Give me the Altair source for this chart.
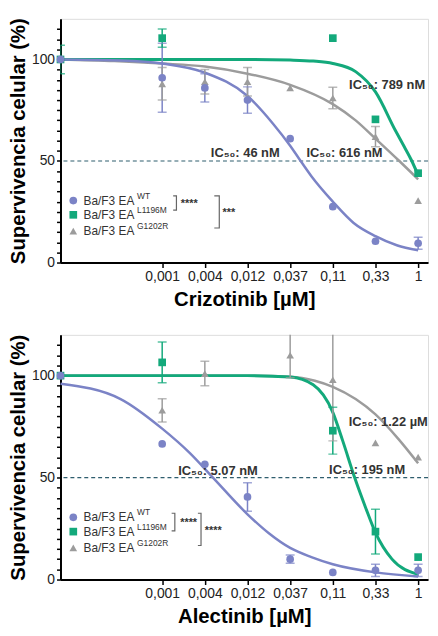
import altair as alt
import pandas as pd

# ---------------- data ----------------
# concentrations (µM); the untreated control is drawn at 1e-4 on the log axis
conc = [0.0001, 0.0013717, 0.0041152, 0.0123457, 0.037037, 0.111111, 0.333333, 1.0]
tick_vals = [0.0013717, 0.0041152, 0.0123457, 0.037037, 0.111111, 0.333333, 1.0]
tick_labels = ["0,001", "0,004", "0,012", "0,037", "0,11", "0,33", "1"]

series = ["WT", "L1196M", "G1202R"]
series_sup = ["WT", "L1196M", "G1202R"]
colors = ["#7b83c6", "#13a97b", "#9c9c9c"]
shapes = ["circle", "square", "triangle-up"]

# Crizotinib panel: means and error (SD) per concentration (None = not visible)
criz_wt = [100, 91, 86, 80, 61, 27.5, 10.5, 9.5]
criz_wt_err = [0, 17, 7, 6.5, 0, 0, 0, 3]
criz_l = [100, 110.5, None, None, None, 110.5, 70.5, 44]
criz_l_err = [7, 4.5, 0, 0, 0, 0, 0, 0]
criz_g = [100, 88, 89, 89, 86, 81, 62, 30.5]
criz_g_err = [0, 8, 6, 7, 0, 5.3, 5, 0]

# Crizotinib fitted curves
criz_wt_cx = [0.0001, 0.00047, 0.0013717, 0.0041152, 0.0123457, 0.0237, 0.037037, 0.046, 0.064, 0.111111, 0.19, 0.333333, 0.577, 1.0]
criz_wt_cy = [100, 99.5, 98, 93.5, 82, 68.5, 57.5, 51.5, 42.5, 30, 19.5, 13, 8.5, 6]
criz_l_cx = [0.0001, 0.0013717, 0.0123457, 0.037037, 0.067, 0.111111, 0.2, 0.333333, 0.557, 0.7, 0.85, 1.0]
criz_l_cy = [100, 100, 100, 99.7, 99.2, 98, 94, 84, 65, 57, 50, 43]
criz_g_cx = [0.0001, 0.0004, 0.0013717, 0.0041152, 0.0123457, 0.037037, 0.111111, 0.2, 0.333333, 0.616, 1.0]
criz_g_cy = [100, 99.2, 98, 96.5, 93, 87.5, 78, 70, 61, 50, 41]

# Alectinib panel
alec_wt = [100, 66.5, 56.5, 40.5, 10, 3.5, 4.5, 4.5]
alec_wt_err = [0, 0, 0, 7, 2, 0, 3, 3]
alec_l = [100, 106.5, None, None, None, 73, 23.5, 11]
alec_l_err = [0, 10, 0, 0, 0, 11.5, 11, 0]
alec_g = [100, 83, 101, None, 110, 98, 67, 60]
alec_g_err = [0, 5.7, 6, 0, 11, 30, 0, 0]

alec_wt_cx = [0.0001, 0.00047, 0.0013717, 0.0028, 0.00507, 0.0123457, 0.0214, 0.037037, 0.064, 0.111111, 0.333333, 1.0]
alec_wt_cy = [96, 88.5, 74, 62, 50, 32, 22.7, 15.5, 11, 7.5, 3.5, 1.5]
alec_l_cx = [0.0001, 0.0013717, 0.0123457, 0.037037, 0.067, 0.111111, 0.1435, 0.195, 0.26, 0.333333, 0.51, 1.0]
alec_l_cy = [100, 100, 100, 99.3, 95.5, 82, 68, 50, 35, 23, 10, 2.5]
alec_g_cx = [0.0001, 0.0123457, 0.037037, 0.07, 0.111111, 0.2, 0.333333, 0.6, 1.0]
alec_g_cy = [100, 100, 99.5, 97.5, 94.5, 88.5, 81, 69, 57]

# annotations (text, x in µM, y in %)
criz_ann = [("IC\u2085\u2080: 46 nM", 0.0048, 54), ("IC\u2085\u2080: 616 nM", 0.0564, 54),
            ("IC\u2085\u2080: 789 nM", 0.169, 87.5)]
alec_ann = [("IC\u2085\u2080: 5.07 nM", 0.00207, 53), ("IC\u2085\u2080: 195 nM", 0.101, 53.5),
            ("IC\u2085\u2080: 1.22 \u00b5M", 0.167, 77.3)]

# legend rows (y in %) and significance brackets
legend_rows = [30.5, 23.5, 15.5]
legend_sym_x = 0.000139
legend_txt_x = 0.000181
criz_brackets = [(0.00182, 0.00198, 32.8, 25.8), (0.00525, 0.00597, 32.8, 17.0)]
criz_stars = [("****", 0.00221, 28.8), ("***", 0.00649, 24.5)]
alec_brackets = [(0.00175, 0.0019, 32.5, 23.9), (0.00344, 0.00373, 32.5, 16.7)]
alec_stars = [("****", 0.00218, 27.5), ("****", 0.0041, 23.6)]

# ---------------- building ----------------
FONT = "Liberation Sans"
color_scale = alt.Scale(domain=series, range=colors)
shape_scale = alt.Scale(domain=series, range=shapes)
xs = alt.Scale(type="log", domain=[0.0001, 1.29], nice=False)
ys = alt.Scale(domain=[0, 120], nice=False, zero=False)

bounds = [(tick_vals[i] * tick_vals[i + 1]) ** 0.5 for i in range(len(tick_vals) - 1)]
label_expr = ""
for b, lab in zip(bounds, tick_labels[:-1]):
    label_expr += f"datum.value < {b} ? '{lab}' : "
label_expr += f"'{tick_labels[-1]}'"

axis_common = dict(domainColor="black", domainWidth=2, tickColor="black", tickWidth=1.5,
                   labelFont=FONT, labelFontSize=14, labelColor="#222", labelOverlap=False,
                   labelFlush=False, titleFont=FONT, titleFontWeight="bold",
                   titleColor="black", grid=False)


def X(field, title):
    return alt.X(field, type="quantitative", scale=xs,
                 axis=alt.Axis(values=tick_vals, labelExpr=label_expr, title=title,
                               tickSize=5, labelPadding=2, titlePadding=6, titleFontSize=20.5,
                               **axis_common))


def Y(field):
    return alt.Y(field, type="quantitative", scale=ys,
                 axis=alt.Axis(values=list(range(0, 116, 5)),
                               labelExpr="datum.value % 50 == 0 ? datum.value : ''",
                               title="Supervivencia celular (%)", tickSize=4, labelPadding=2,
                               titlePadding=3, titleFontSize=20.5, **axis_common))


def points_df(vals, errs):
    rows = []
    for s, v, e in zip(series, vals, errs):
        for c, y, err in zip(conc, v, e):
            if y is None:
                continue
            rows.append(dict(series=s, c=c, y=y, lo=y - err, hi=y + err, err=err))
    return pd.DataFrame(rows)


def curves_df(cxs, cys):
    rows = []
    for s, cx, cy in zip(series, cxs, cys):
        for i, (c, y) in enumerate(zip(cx, cy)):
            rows.append(dict(series=s, c=c, y=y, o=i))
    return pd.DataFrame(rows)


def panel(pts, crv, ann, brackets, stars, xtitle, h):
    col = alt.Color("series:N", scale=color_scale, legend=None)
    shp = alt.Shape("series:N", scale=shape_scale, legend=None)

    ref = alt.Chart(pd.DataFrame({"y": [50]})).mark_rule(
        color="#2f5e6e", strokeDash=[4, 3], strokeWidth=1.2).encode(y=Y("y"))

    line_layers = []
    for s, w in zip(["G1202R", "L1196M", "WT"], [2.5, 3, 2.5]):
        line_layers.append(
            alt.Chart(crv[crv.series == s]).mark_line(interpolate="monotone", strokeWidth=w)
            .encode(x=X("c", xtitle), y=Y("y"), color=col, order="o:Q"))

    e = pts[pts.err > 0]
    err_rule = alt.Chart(e).mark_rule(strokeWidth=1.5, clip=True).encode(
        x=X("c", xtitle), y=Y("lo"), y2="hi", color=col)
    err_lo = alt.Chart(e).mark_tick(size=9, thickness=1.5, orient="horizontal", clip=True).encode(
        x=X("c", xtitle), y=Y("lo"), color=col)
    err_hi = alt.Chart(e).mark_tick(size=9, thickness=1.5, orient="horizontal", clip=True).encode(
        x=X("c", xtitle), y=Y("hi"), color=col)

    pt_layers = []
    for s in ["G1202R", "L1196M", "WT"]:
        pt_layers.append(
            alt.Chart(pts[pts.series == s]).mark_point(filled=True, opacity=1, size=60)
            .encode(x=X("c", xtitle), y=Y("y"), color=col, shape=shp))

    ann_df = pd.DataFrame(ann, columns=["t", "c", "y"])
    ann_l = alt.Chart(ann_df).mark_text(align="left", baseline="middle", font=FONT,
                                        fontSize=13, fontWeight="bold", color="#333").encode(
        x=X("c", xtitle), y=Y("y"), text="t")

    leg = pd.DataFrame(dict(series=series, sup=series_sup, y=legend_rows,
                            cs=[legend_sym_x] * 3, ct=[legend_txt_x] * 3))
    leg_pts = alt.Chart(leg).mark_point(filled=True, opacity=1, size=60).encode(
        x=X("cs", xtitle), y=Y("y"), color=col, shape=shp)
    leg_txt = alt.Chart(leg).mark_text(align="left", baseline="middle", font=FONT,
                                       fontSize=12, color="#333").encode(
        x=X("ct", xtitle), y=Y("y"), text=alt.value("Ba/F3 EA"))
    leg_sup = alt.Chart(leg).mark_text(align="left", baseline="middle", font=FONT,
                                       fontSize=8.5, color="#333", dx=54, dy=-5).encode(
        x=X("ct", xtitle), y=Y("y"), text="sup")

    brows = []
    for i, (xl, xr, yt, yb) in enumerate(brackets):
        for j, (c, y) in enumerate([(xl, yt), (xr, yt), (xr, yb), (xl, yb)]):
            brows.append(dict(b=i, o=j, c=c, y=y))
    br = alt.Chart(pd.DataFrame(brows)).mark_line(color="#666", strokeWidth=1.2).encode(
        x=X("c", xtitle), y=Y("y"), detail="b:N", order="o:Q")
    st = alt.Chart(pd.DataFrame(stars, columns=["t", "c", "y"])).mark_text(
        align="left", baseline="middle", font=FONT, fontSize=11, fontWeight="bold",
        color="#333").encode(x=X("c", xtitle), y=Y("y"), text="t")

    return alt.layer(ref, *line_layers, err_rule, err_lo, err_hi, *pt_layers,
                     ann_l, leg_pts, leg_txt, leg_sup, br, st).properties(width=371, height=h)


top = panel(points_df([criz_wt, criz_l, criz_g], [criz_wt_err, criz_l_err, criz_g_err]),
            curves_df([criz_wt_cx, criz_l_cx, criz_g_cx], [criz_wt_cy, criz_l_cy, criz_g_cy]),
            criz_ann, criz_brackets, criz_stars, "Crizotinib [\u00b5M]", 246)
bottom = panel(points_df([alec_wt, alec_l, alec_g], [alec_wt_err, alec_l_err, alec_g_err]),
               curves_df([alec_wt_cx, alec_l_cx, alec_g_cx], [alec_wt_cy, alec_l_cy, alec_g_cy]),
               alec_ann, alec_brackets, alec_stars, "Alectinib [\u00b5M]", 247)

chart = alt.vconcat(top, bottom, spacing=23).properties(
    padding={"left": 0, "top": 6, "right": 0, "bottom": 0}
).configure_view(stroke=None).configure(background="white")

chart.save("out.html", embed_options={"renderer": "svg", "actions": False})
